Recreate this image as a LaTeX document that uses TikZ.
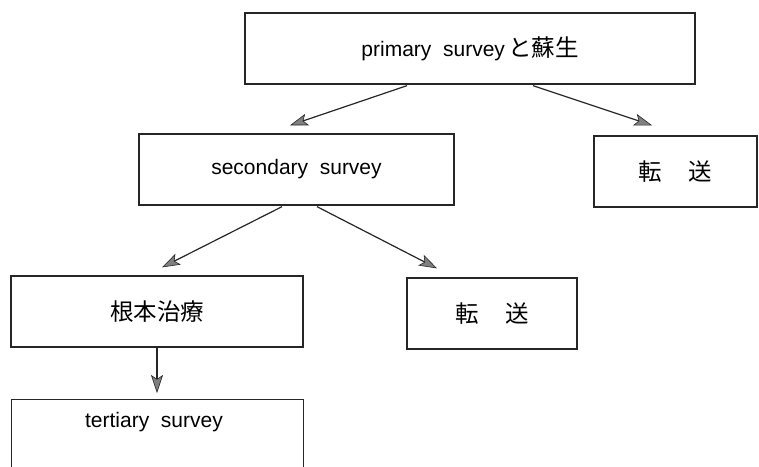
\documentclass[tikz,border=0pt]{standalone}
\usepackage{fontspec}
\setmainfont{Liberation Sans}
\newfontfamily\jp{Noto Sans CJK JP}
\usetikzlibrary{arrows.meta,calc}
\begin{document}
\begin{tikzpicture}[x=1pt,y=-1pt,
  box/.style={draw=black!85, line width=1.3pt, rectangle, inner sep=0pt, minimum height=71pt},
  lat/.style={font=\fontsize{21}{25}\selectfont},
  jpt/.style={font=\jp\fontsize{23.5}{26}\selectfont},
  conn/.style={draw=black!85, line width=1.2pt, -{Stealth[length=18pt,width=12pt,inset=4pt,fill=black!50,line width=0.6pt]}}
]
\clip (0,0) rectangle (759,466);
\fill[white] (0,0) rectangle (759,466);
\node[box, minimum width=450pt, lat] (top) at (470,48.5) {primary\ \ survey\hspace{3pt}{\jp\fontsize{23.5}{26}\selectfont と蘇生}};
\node[box, minimum width=315pt, lat] (sec) at (296.5,169.5) {secondary\ \ survey};
\node[box, minimum width=163pt, jpt] (tr1) at (675.5,171.5) {転\hspace{27pt}送};
\node[box, minimum width=292pt, jpt] (root) at (157,311.5) {根本治療};
\node[box, minimum width=170pt, jpt] (tr2) at (492,313.5) {転\hspace{27pt}送};
\node[box, minimum width=292pt, minimum height=100pt, anchor=north] (tert) at (157.5,399) {};
\node[lat] (terttxt) at (154,422) {tertiary\ \ survey};
\draw[conn] ($(top.south)+(-63,1)$) -- ($(sec.north)+(-6.5,-8)$);
\draw[conn] ($(top.south)+(63,1)$) -- ($(tr1.north)+(-23.5,-10)$);
\draw[conn] ($(sec.south)+(-14.5,1)$) -- ($(root.north)+(5,-8)$);
\draw[conn] ($(sec.south)+(20.5,1)$) -- ($(tr2.north)+(-55,-9)$);
\draw[conn] (root.south) -- ($(root.south |- tert.north)+(0,-6)$);
\end{tikzpicture}
\end{document}
